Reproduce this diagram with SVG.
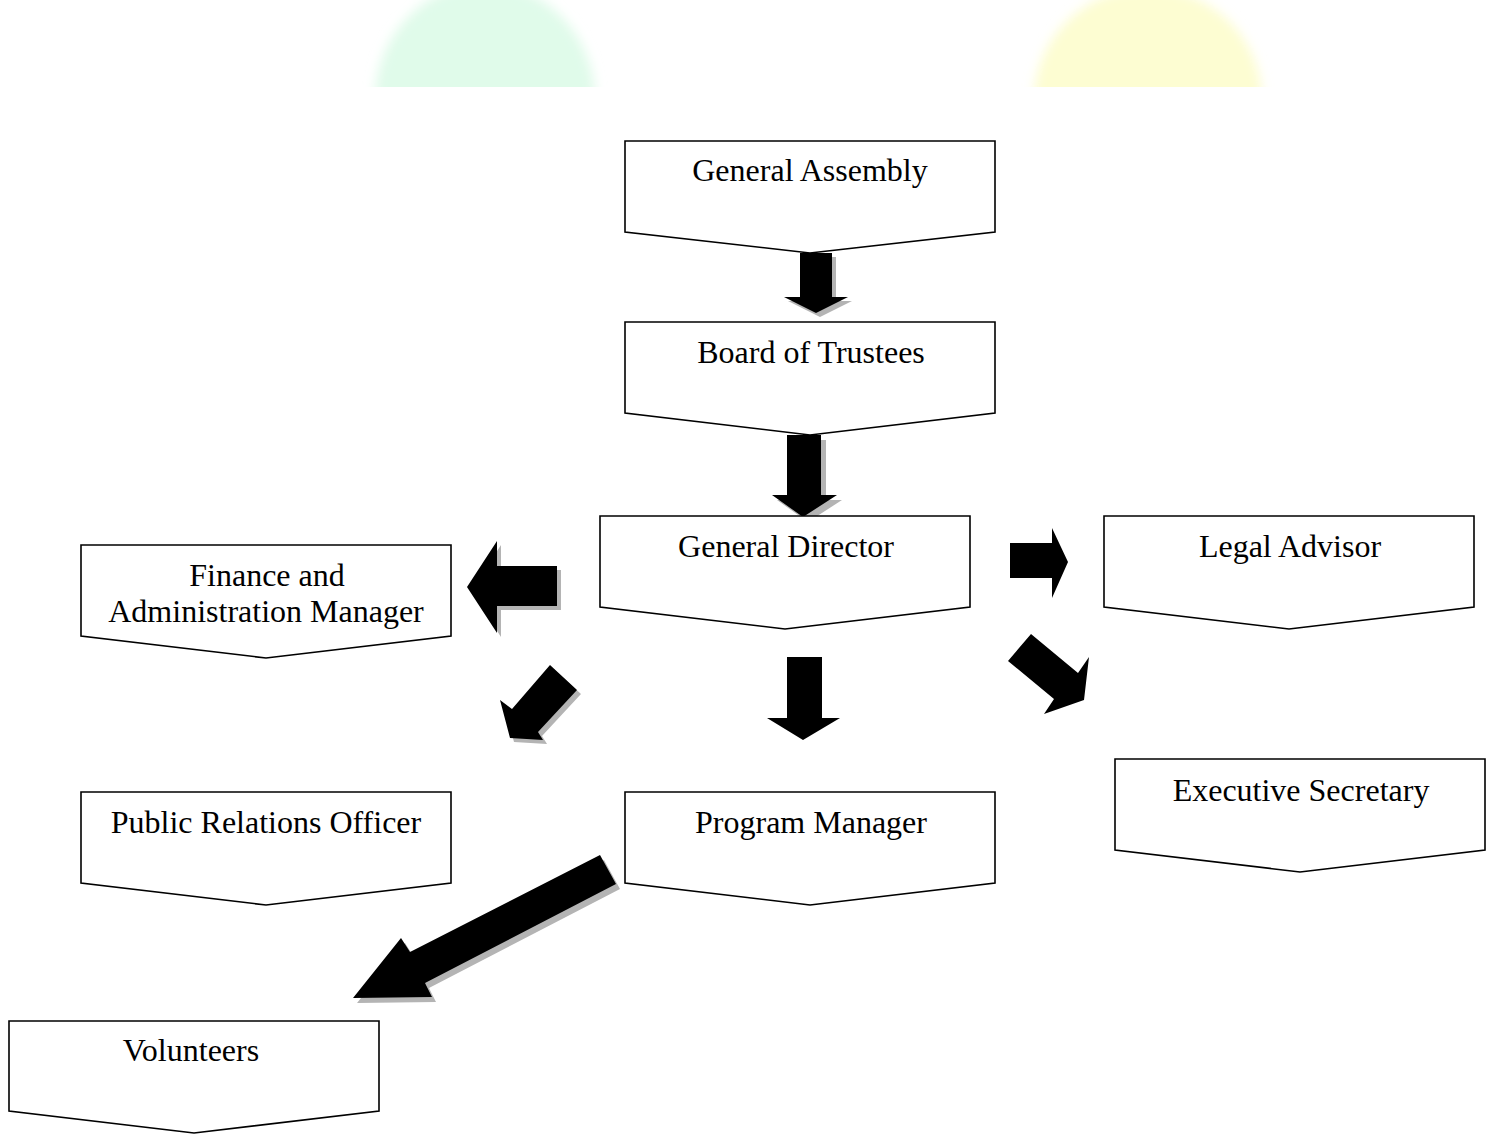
<svg xmlns="http://www.w3.org/2000/svg" width="1496" height="1135" viewBox="0 0 1496 1135">
<style>
.box{fill:#fff;stroke:#000;stroke-width:1.6}
.lbl{font-family:"Liberation Serif","Times New Roman",serif;font-size:32px;fill:#000;text-anchor:middle}
.arr{fill:#000}
.sh{fill:#b4b4b4}
</style>
<defs>
<filter id="blur" x="-20%" y="-20%" width="140%" height="140%"><feGaussianBlur stdDeviation="6"/></filter>
<clipPath id="topclip"><rect x="0" y="0" width="1496" height="87"/></clipPath>
</defs>
<rect width="1496" height="1135" fill="#fff"/>
<g id="background" clip-path="url(#topclip)">
<ellipse cx="485" cy="100" rx="110" ry="116" fill="#e0fbea" filter="url(#blur)"/>
<ellipse cx="1148" cy="100" rx="114" ry="112" fill="#fdfdd2" filter="url(#blur)"/>
</g>
<g id="connectors">
<g id="a1"><polygon class="sh" points="804,257 836,257 836,301 852,301 820,317 788,301 804,301"/><polygon class="arr" points="800,253 832,253 832,297 848,297 816,313 784,297 800,297"/></g>
<g id="a2"><polygon class="sh" points="792,440 826,440 826,500 842,500 808,522 777,500 792,500"/><polygon class="arr" points="787,435 821,435 821,495 837,495 803,517 772,495 787,495"/></g>
<g id="a3"><polygon class="arr" points="787,657 822,657 822,718 840,718 803,740 767,718 787,718"/></g>
<g id="a4"><polygon class="arr" points="1010,543 1052,543 1052,528 1068,562 1052,598 1052,578 1010,578"/></g>
<g id="a5"><polygon class="arr" points="1031,634 1078,673 1089,657 1084,700 1044,714 1054,699 1008,661"/></g>
<g id="a6"><polygon class="sh" points="554,669 581,694 542,736 547,744 514,742 504,704 516,713"/><polygon class="arr" points="550,665 577,690 538,732 543,740 510,738 500,700 512,709"/></g>
<g id="a7"><polygon class="sh" points="561,570 561,610 501,610 501,637 471,591 501,545 501,570"/><polygon class="arr" points="557,566 557,606 497,606 497,633 467,587 497,541 497,566"/></g>
<g id="a8"><polygon class="sh" points="604,860 620,889 429,988 436,1002 357,1003 405,943 414,957"/><polygon class="arr" points="600,855 616,884 425,983 432,997 353,998 401,938 410,952"/></g>
</g>
<g id="general-assembly"><polygon class="box" points="625,141 995,141 995,232 810,253 625,232"/><text class="lbl" x="810" y="181">General Assembly</text></g>
<g id="board-of-trustees"><polygon class="box" points="625,322 995,322 995,413 810,435 625,413"/><text class="lbl" x="811" y="363">Board of Trustees</text></g>
<g id="general-director"><polygon class="box" points="600,516 970,516 970,607 785,629 600,607"/><text class="lbl" x="786" y="557">General Director</text></g>
<g id="legal-advisor"><polygon class="box" points="1104,516 1474,516 1474,607 1289,629 1104,607"/><text class="lbl" x="1290" y="557">Legal Advisor</text></g>
<g id="finance-admin"><polygon class="box" points="81,545 451,545 451,636 266,658 81,636"/><text class="lbl" x="267" y="586">Finance and</text><text class="lbl" x="266" y="622">Administration Manager</text></g>
<g id="public-relations"><polygon class="box" points="81,792 451,792 451,883 266,905 81,883"/><text class="lbl" x="266" y="833">Public Relations Officer</text></g>
<g id="program-manager"><polygon class="box" points="625,792 995,792 995,883 810,905 625,883"/><text class="lbl" x="811" y="833">Program Manager</text></g>
<g id="executive-secretary"><polygon class="box" points="1115,759 1485,759 1485,850 1300,872 1115,850"/><text class="lbl" x="1301" y="801">Executive Secretary</text></g>
<g id="volunteers"><polygon class="box" points="9,1021 379,1021 379,1111 194,1133 9,1111"/><text class="lbl" x="191" y="1061">Volunteers</text></g>
</svg>
